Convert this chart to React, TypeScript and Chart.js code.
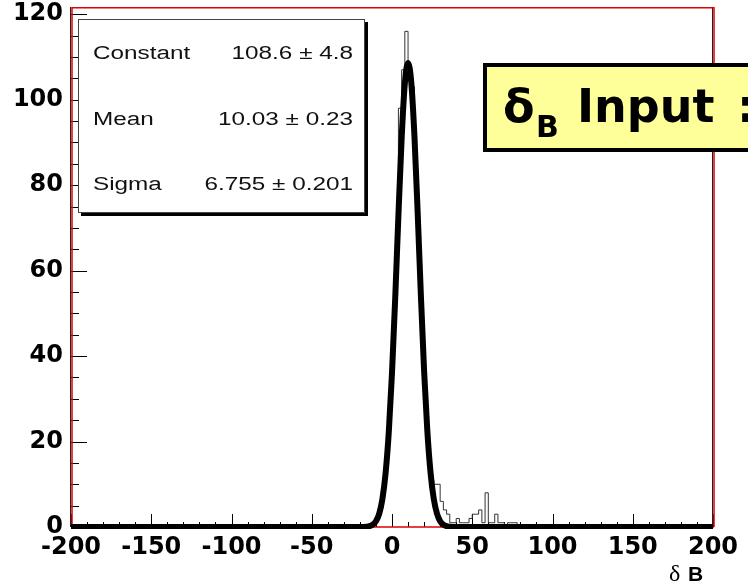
import React, { useEffect, useRef } from "react";
import { Chart, registerables } from "chart.js";

Chart.register(...registerables);

// ---- data ----
const X_MIN = -200;
const X_MAX = 200;
const Y_MAX = 121.7;
const BIN_WIDTH = 2;
const X_MAJOR = 50;
const X_MINOR = 10;
const Y_MAJOR = 20;
const Y_MINOR = 5;

const binLowEdges = [-20, -18, -16, -14, -12, -10, -8, -6, -4, -2, 0, 2, 4, 6, 8, 10, 12, 14, 16, 18, 20, 22, 24, 26, 28, 30, 32, 34, 36, 38, 40, 42, 44, 46, 48, 50, 52, 54, 56, 58, 60, 62, 64, 66, 68, 70, 72, 74, 76, 78];
const binCounts = [0, 0, 0, 0, 1, 2, 4, 9, 17, 29, 45, 64, 98, 107, 116, 108, 103, 84, 64, 46, 29, 18, 11, 10, 10, 6, 4, 3, 1, 1, 2, 1, 1, 1, 2, 3, 3, 4, 1, 8, 1, 1, 3, 1, 1, 0, 1, 1, 1, 0];

const fitX = [-20, -18, -16, -14, -12, -10, -8, -6, -4, -2, 0, 2, 4, 6, 8, 10, 12, 14, 16, 18, 20, 22, 24, 26, 28, 30, 32, 34, 36, 38, 40];
const fitY = [0.01, 0.02, 0.07, 0.19, 0.53, 1.34, 3.08, 6.5, 12.56, 22.24, 36.08, 53.57, 72.91, 90.9, 103.8, 108.6, 104.1, 91.38, 73.49, 54.14, 36.55, 22.59, 12.79, 6.64, 3.16, 1.37, 0.55, 0.2, 0.07, 0.02, 0.01];

const statNames = ["Constant", "Mean", "Sigma"];
const statValues = ["108.6 \u00b1 4.8", "10.03 \u00b1 0.23", "6.755 \u00b1 0.201"];

const xTitleSymbol = "\u03b4";
const xTitleLetter = "B";
const bannerSymbol = "\u03b4";
const bannerSub = "B";
const bannerText = "Input";
const bannerTail = ":";

function stretched(ctx: CanvasRenderingContext2D, text: string, x: number, y: number, align: CanvasTextAlign, sx: number) {
  ctx.save();
  ctx.translate(x, y);
  ctx.scale(sx, 1);
  ctx.textAlign = align;
  ctx.fillText(text, 0, 0);
  ctx.restore();
}

const rootStyle = {
  id: "rootStyle",
  beforeDatasetsDraw(chart: any) {
    const { ctx, chartArea: a, scales } = chart;
    const xs = scales.x;
    const ys = scales.y;
    ctx.save();
    // tick marks drawn inside the frame
    ctx.strokeStyle = "#000";
    ctx.lineWidth = 1;
    ctx.beginPath();
    for (let v = X_MIN; v <= X_MAX; v += X_MINOR) {
      const px = Math.round(xs.getPixelForValue(v)) + 0.5;
      const major = v % X_MAJOR === 0;
      ctx.moveTo(px, a.bottom);
      ctx.lineTo(px, a.bottom - (major ? 13 : 5));
    }
    for (let v = 0; v <= Y_MAX; v += Y_MINOR) {
      const py = Math.round(ys.getPixelForValue(v)) + 0.5;
      const major = v % Y_MAJOR === 0;
      ctx.moveTo(a.left, py);
      ctx.lineTo(a.left + (major ? 16 : 8), py);
    }
    ctx.stroke();
    // frame
    ctx.strokeStyle = "#222";
    ctx.lineWidth = 1;
    ctx.beginPath();
    ctx.moveTo(a.left - 0.5, a.top);
    ctx.lineTo(a.left - 0.5, a.bottom);
    ctx.moveTo(a.right - 0.5, a.top);
    ctx.lineTo(a.right - 0.5, a.bottom);
    ctx.stroke();
    ctx.strokeStyle = "#e00000";
    ctx.lineWidth = 1.5;
    ctx.beginPath();
    ctx.moveTo(a.left + 1, a.bottom);
    ctx.lineTo(a.left + 1, a.top + 0.75);
    ctx.lineTo(a.right + 1, a.top + 0.75);
    ctx.lineTo(a.right + 1, a.bottom);
    ctx.moveTo(a.left, a.bottom);
    ctx.lineTo(a.right + 1, a.bottom);
    ctx.stroke();
    ctx.restore();
  },
  afterDatasetsDraw(chart: any) {
    const { ctx, chartArea: a } = chart;
    ctx.save();
    // stats box
    const bx = a.left + 7;
    const by = a.top + 12;
    const bw = 287;
    const bh = 194;
    ctx.fillStyle = "#000";
    ctx.fillRect(bx + 3, by + 3, bw, bh);
    ctx.fillStyle = "#fff";
    ctx.fillRect(bx, by, bw, bh);
    ctx.strokeStyle = "#444";
    ctx.lineWidth = 1;
    ctx.strokeRect(bx + 0.5, by + 0.5, bw - 1, bh - 1);
    ctx.fillStyle = "#111";
    ctx.font = "18px 'Liberation Sans', Arial, sans-serif";
    ctx.textBaseline = "alphabetic";
    const rowY = [40, 106, 171];
    statNames.forEach((n, i) => {
      stretched(ctx, n, bx + 15, by + rowY[i], "left", 1.35);
      stretched(ctx, statValues[i], bx + 275, by + rowY[i], "right", 1.35);
    });

    // banner
    ctx.fillStyle = "#ffff99";
    ctx.fillRect(483, 63, 300, 89);
    ctx.strokeStyle = "#000";
    ctx.lineWidth = 4;
    ctx.strokeRect(485, 65, 300, 85);
    ctx.fillStyle = "#000";
    ctx.textAlign = "left";
    ctx.font = "bold 46px 'DejaVu Sans', sans-serif";
    ctx.fillText(bannerSymbol, 503, 122);
    ctx.fillText(bannerText, 577, 122);
    ctx.fillText(bannerTail, 737, 122);
    ctx.font = "bold 30px 'DejaVu Sans', sans-serif";
    ctx.fillText(bannerSub, 536, 137);

    // x axis title
    ctx.font = "24px 'Liberation Serif', serif";
    ctx.fillText(xTitleSymbol, 669, 581);
    ctx.font = "bold 21px 'Liberation Sans', Arial, sans-serif";
    ctx.fillText(xTitleLetter, 688, 581);
    ctx.restore();
  },
};

export default function App() {
  const canvasRef = useRef<HTMLCanvasElement | null>(null);

  useEffect(() => {
    const canvas = canvasRef.current;
    if (!canvas) return;
    const histPoints = [
      { x: X_MIN, y: 0 },
      ...binLowEdges.map((x, i) => ({ x, y: binCounts[i] })),
      { x: binLowEdges[binLowEdges.length - 1] + BIN_WIDTH, y: 0 },
      { x: X_MAX, y: 0 },
    ];
    const fitPoints = [
      { x: X_MIN, y: 0 },
      ...fitX.map((x, i) => ({ x, y: fitY[i] })),
      { x: X_MAX, y: 0 },
    ];
    const tickFont = { family: "'DejaVu Sans', sans-serif", weight: "bold" as const, size: 24 };
    const chart = new Chart(canvas, {
      type: "line",
      data: {
        datasets: [
          {
            label: "fit",
            data: fitPoints,
            borderColor: "#000",
            borderWidth: 6,
            pointRadius: 0,
            fill: false,
            cubicInterpolationMode: "monotone",
            clip: { left: 0, right: 0, top: 5, bottom: 2 },
            order: 0,
          },
          {
            label: "hist",
            data: histPoints,
            borderColor: "#333",
            borderWidth: 1,
            pointRadius: 0,
            fill: false,
            stepped: "before",
            order: 1,
          },
        ],
      },
      options: {
        animation: false,
        responsive: false,
        devicePixelRatio: 1,
        layout: { padding: { top: 7, right: 35, left: 0, bottom: 0 } },
        plugins: { legend: { display: false }, tooltip: { enabled: false } },
        scales: {
          x: {
            type: "linear",
            min: X_MIN,
            max: X_MAX,
            grid: { display: false, drawTicks: false },
            border: { display: false },
            ticks: {
              stepSize: X_MAJOR,
              color: "#000",
              font: tickFont,
              padding: 6,
              maxRotation: 0,
              autoSkip: false,
            },
            afterFit: (s: any) => {
              s.height = 57;
              s.paddingLeft = 0;
              s.paddingRight = 0;
            },
          },
          y: {
            type: "linear",
            min: 0,
            max: Y_MAX,
            grid: { display: false, drawTicks: false },
            border: { display: false },
            ticks: {
              stepSize: Y_MAJOR,
              includeBounds: false,
              color: "#000",
              font: tickFont,
              padding: 8,
            },
            afterFit: (s: any) => {
              s.width = 71;
              s.paddingTop = 0;
              s.paddingBottom = 0;
            },
          },
        },
      },
      plugins: [rootStyle],
    });
    return () => chart.destroy();
  }, []);

  return (
    <div style={{ position: "absolute", left: 0, top: 0, width: 748, height: 584, background: "#fff" }}>
      <canvas ref={canvasRef} width={748} height={584} style={{ display: "block" }} />
    </div>
  );
}
